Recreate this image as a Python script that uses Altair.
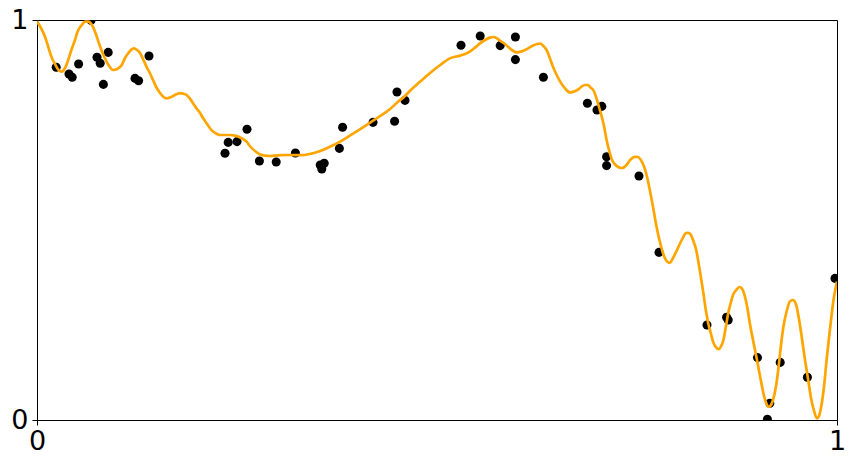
import altair as alt
import pandas as pd

# Scatter observations
pt_x = [0.024, 0.040, 0.044, 0.052, 0.0675, 0.075, 0.079, 0.083, 0.089, 0.1225,
        0.127, 0.140, 0.235, 0.239, 0.250, 0.2625, 0.278, 0.299, 0.323, 0.354,
        0.356, 0.359, 0.378, 0.382, 0.420, 0.447, 0.450, 0.460, 0.530, 0.554,
        0.579, 0.598, 0.598, 0.633, 0.688, 0.700, 0.706, 0.712, 0.712, 0.7525,
        0.7775, 0.8375, 0.862, 0.864, 0.9006, 0.929, 0.916, 0.913, 0.963, 0.9975]
pt_y = [0.882, 0.865, 0.857, 0.890, 0.999, 0.907, 0.892, 0.839, 0.919, 0.854,
        0.848, 0.910, 0.667, 0.694, 0.696, 0.727, 0.6475, 0.645, 0.6675, 0.6375,
        0.6275, 0.642, 0.679, 0.732, 0.744, 0.747, 0.820, 0.799, 0.937, 0.960,
        0.936, 0.9575, 0.901, 0.857, 0.792, 0.775, 0.784, 0.658, 0.636, 0.610,
        0.419, 0.2375, 0.257, 0.250, 0.156, 0.144, 0.042, 0.002, 0.107, 0.354]

# Fitted curve
cv_x = [0.0, 0.005, 0.010, 0.01375, 0.018, 0.0225, 0.027, 0.031, 0.035, 0.039,
        0.0425, 0.0475, 0.051, 0.056, 0.060, 0.064, 0.0675, 0.070, 0.074, 0.079,
        0.0825, 0.087, 0.091, 0.095, 0.100, 0.106, 0.110, 0.114, 0.1175, 0.121,
        0.125, 0.129, 0.1325, 0.137, 0.141, 0.145, 0.149, 0.154, 0.1575, 0.162,
        0.166, 0.170, 0.175, 0.179, 0.1825, 0.187, 0.191, 0.195, 0.199, 0.204,
        0.2075, 0.212, 0.216, 0.220, 0.225, 0.229, 0.235, 0.241, 0.2475, 0.252,
        0.256, 0.262, 0.266, 0.2725, 0.279, 0.285, 0.291, 0.304, 0.316, 0.329,
        0.341, 0.354, 0.366, 0.379, 0.391, 0.404, 0.416, 0.429, 0.441, 0.451,
        0.460, 0.466, 0.479, 0.491, 0.504, 0.516, 0.529, 0.535, 0.541, 0.5475,
        0.554, 0.560, 0.566, 0.571, 0.575, 0.579, 0.585, 0.591, 0.600, 0.605,
        0.612, 0.619, 0.625, 0.629, 0.633, 0.637, 0.641, 0.645, 0.649, 0.654,
        0.660, 0.666, 0.671, 0.677, 0.681, 0.685, 0.689, 0.691, 0.696, 0.700,
        0.7025, 0.706, 0.709, 0.712, 0.715, 0.718, 0.7225, 0.727, 0.731, 0.737,
        0.741, 0.7475, 0.751, 0.756, 0.759, 0.762, 0.766, 0.770, 0.774, 0.779,
        0.785, 0.789, 0.791, 0.795, 0.800, 0.804, 0.808, 0.811, 0.814, 0.8175,
        0.820, 0.824, 0.827, 0.830, 0.833, 0.836, 0.839, 0.8425, 0.845, 0.849,
        0.852, 0.855, 0.858, 0.861, 0.864, 0.8675, 0.870, 0.874, 0.878, 0.881,
        0.885, 0.888, 0.891, 0.895, 0.900, 0.904, 0.908, 0.911, 0.915, 0.9175,
        0.920, 0.924, 0.927, 0.930, 0.933, 0.9375, 0.941, 0.945, 0.949, 0.952,
        0.955, 0.960, 0.964, 0.968, 0.971, 0.975, 0.9775, 0.981, 0.984, 0.987,
        0.990, 0.993, 0.996, 1.0]
cv_y = [0.996, 0.980, 0.958, 0.935, 0.908, 0.890, 0.875, 0.871, 0.880, 0.900,
        0.9225, 0.950, 0.9725, 0.9875, 0.996, 0.996, 0.991, 0.983, 0.9625, 0.933,
        0.915, 0.896, 0.8825, 0.875, 0.8775, 0.8875, 0.905, 0.917, 0.925, 0.929,
        0.925, 0.917, 0.9025, 0.883, 0.8675, 0.850, 0.8325, 0.817, 0.809, 0.804,
        0.806, 0.810, 0.815, 0.817, 0.816, 0.8125, 0.804, 0.792, 0.780, 0.767,
        0.755, 0.742, 0.730, 0.721, 0.715, 0.7125, 0.7125, 0.7125, 0.711, 0.708,
        0.704, 0.696, 0.685, 0.6725, 0.664, 0.661, 0.660, 0.662, 0.6625, 0.662,
        0.665, 0.6725, 0.683, 0.696, 0.711, 0.727, 0.743, 0.760, 0.777, 0.795,
        0.810, 0.8225, 0.846, 0.867, 0.8875, 0.904, 0.911, 0.915, 0.921, 0.931,
        0.942, 0.950, 0.956, 0.9575, 0.954, 0.948, 0.940, 0.929, 0.919, 0.921,
        0.927, 0.935, 0.940, 0.941, 0.935, 0.925, 0.905, 0.883, 0.865, 0.846,
        0.829, 0.819, 0.821, 0.827, 0.834, 0.8375, 0.8375, 0.833, 0.8225, 0.800,
        0.7825, 0.758, 0.7325, 0.700, 0.675, 0.654, 0.639, 0.632, 0.630, 0.6375,
        0.649, 0.658, 0.6575, 0.646, 0.6325, 0.6125, 0.575, 0.533, 0.4875, 0.442,
        0.404, 0.394, 0.393, 0.405, 0.425, 0.4425, 0.458, 0.4675, 0.468, 0.4625,
        0.450, 0.425, 0.392, 0.355, 0.317, 0.275, 0.242, 0.215, 0.196, 0.181,
        0.177, 0.184, 0.200, 0.2325, 0.267, 0.295, 0.3125, 0.325, 0.3325, 0.329,
        0.308, 0.280, 0.242, 0.200, 0.150, 0.1075, 0.067, 0.045, 0.033, 0.0375,
        0.050, 0.0875, 0.133, 0.1875, 0.233, 0.275, 0.296, 0.300, 0.2875, 0.258,
        0.220, 0.150, 0.100, 0.050, 0.025, 0.004, 0.010, 0.042, 0.0875, 0.150,
        0.205, 0.258, 0.305, 0.346]

tick_vals = [0, 1]

pts = pd.DataFrame({"x": pt_x, "y": pt_y})
curve = pd.DataFrame({"x": cv_x, "y": cv_y})

FONT = "DejaVu Sans"

axis_common = dict(values=tick_vals, title=None, grid=False, format="d",
                   labelFont=FONT, labelFontSize=27, labelColor="black",
                   tickColor="black", tickSize=5, tickWidth=1,
                   domainColor="black", domainWidth=1, labelFlush=False)

xs = alt.Scale(domain=[0, 1], nice=False, zero=False)
ys = alt.Scale(domain=[0, 1], nice=False, zero=False)

points = alt.Chart(pts).mark_circle(color="black", size=82, opacity=1, clip=True).encode(
    x=alt.X("x:Q", scale=xs, axis=alt.Axis(labelPadding=3, **axis_common)),
    y=alt.Y("y:Q", scale=ys, axis=alt.Axis(labelPadding=4, **axis_common)))

# frame: top and right spines (no ticks, no labels)
frame_axis = dict(title=None, grid=False, labels=False, ticks=False,
                  domainColor="black", domainWidth=1)
frame = alt.Chart(curve).mark_line(opacity=0).encode(
    x=alt.X("x:Q", scale=xs, axis=alt.Axis(orient="top", **frame_axis)),
    y=alt.Y("y:Q", scale=ys, axis=alt.Axis(orient="right", **frame_axis)))

line = alt.Chart(curve).mark_line(color="#FFA500", strokeWidth=2.7,
                                  interpolate="monotone", clip=True).encode(
    x=alt.X("x:Q", axis=None), y=alt.Y("y:Q", axis=None), order="x:Q")

chart = alt.layer(points, frame, line).resolve_axis(
    x="independent", y="independent"
).properties(
    width=800, height=400,
    autosize=alt.AutoSizeParams(type="none"),
    padding={"left": 29, "top": 12, "right": 11, "bottom": 40},
).configure_view(stroke=None).configure(background="white")

chart.save("out.html", embed_options={"renderer": "svg", "actions": False})
